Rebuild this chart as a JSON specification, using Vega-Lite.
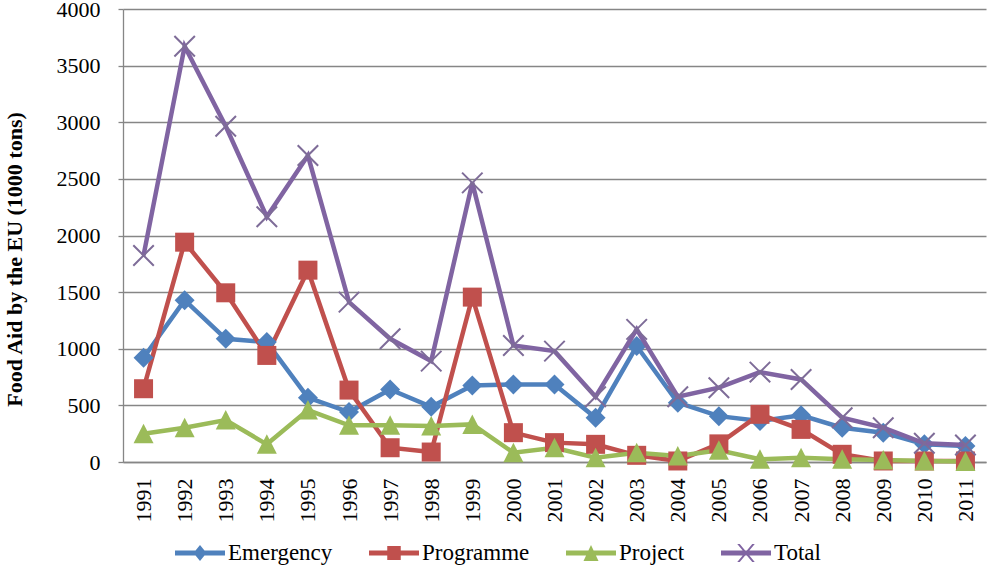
{
  "$schema": "https://vega.github.io/schema/vega-lite/v6.json",
  "width": 863,
  "height": 453,
  "autosize": {"type": "none"},
  "padding": {"left": 123, "top": 9, "right": 2, "bottom": 104},
  "background": "white",
  "config": {
    "view": {"stroke": null},
    "font": "Liberation Serif",
    "axis": {"labelFont": "Liberation Serif", "titleFont": "Liberation Serif", "labelColor": "black", "titleColor": "black", "domainColor": "#868686", "domainWidth": 1.3, "tickColor": "#868686", "tickWidth": 1.3, "gridColor": "#868686", "gridWidth": 1.3},
    "legend": {"labelFont": "Liberation Serif", "labelColor": "black"}
  },
  "data": {"values": [
    {"year": "1991", "series": "Emergency", "value": 921},
    {"year": "1992", "series": "Emergency", "value": 1429},
    {"year": "1993", "series": "Emergency", "value": 1088},
    {"year": "1994", "series": "Emergency", "value": 1059},
    {"year": "1995", "series": "Emergency", "value": 568},
    {"year": "1996", "series": "Emergency", "value": 441},
    {"year": "1997", "series": "Emergency", "value": 641},
    {"year": "1998", "series": "Emergency", "value": 488},
    {"year": "1999", "series": "Emergency", "value": 676},
    {"year": "2000", "series": "Emergency", "value": 685},
    {"year": "2001", "series": "Emergency", "value": 685},
    {"year": "2002", "series": "Emergency", "value": 391},
    {"year": "2003", "series": "Emergency", "value": 1024},
    {"year": "2004", "series": "Emergency", "value": 524},
    {"year": "2005", "series": "Emergency", "value": 405},
    {"year": "2006", "series": "Emergency", "value": 362},
    {"year": "2007", "series": "Emergency", "value": 412},
    {"year": "2008", "series": "Emergency", "value": 303},
    {"year": "2009", "series": "Emergency", "value": 259},
    {"year": "2010", "series": "Emergency", "value": 156},
    {"year": "2011", "series": "Emergency", "value": 141},
    {"year": "1991", "series": "Programme", "value": 647},
    {"year": "1992", "series": "Programme", "value": 1941},
    {"year": "1993", "series": "Programme", "value": 1494},
    {"year": "1994", "series": "Programme", "value": 941},
    {"year": "1995", "series": "Programme", "value": 1694},
    {"year": "1996", "series": "Programme", "value": 635},
    {"year": "1997", "series": "Programme", "value": 126},
    {"year": "1998", "series": "Programme", "value": 88},
    {"year": "1999", "series": "Programme", "value": 1456},
    {"year": "2000", "series": "Programme", "value": 259},
    {"year": "2001", "series": "Programme", "value": 171},
    {"year": "2002", "series": "Programme", "value": 156},
    {"year": "2003", "series": "Programme", "value": 59},
    {"year": "2004", "series": "Programme", "value": 9},
    {"year": "2005", "series": "Programme", "value": 160},
    {"year": "2006", "series": "Programme", "value": 421},
    {"year": "2007", "series": "Programme", "value": 288},
    {"year": "2008", "series": "Programme", "value": 68},
    {"year": "2009", "series": "Programme", "value": 9},
    {"year": "2010", "series": "Programme", "value": 9},
    {"year": "2011", "series": "Programme", "value": 9},
    {"year": "1991", "series": "Project", "value": 250},
    {"year": "1992", "series": "Project", "value": 303},
    {"year": "1993", "series": "Project", "value": 370},
    {"year": "1994", "series": "Project", "value": 156},
    {"year": "1995", "series": "Project", "value": 459},
    {"year": "1996", "series": "Project", "value": 324},
    {"year": "1997", "series": "Project", "value": 324},
    {"year": "1998", "series": "Project", "value": 318},
    {"year": "1999", "series": "Project", "value": 332},
    {"year": "2000", "series": "Project", "value": 82},
    {"year": "2001", "series": "Project", "value": 126},
    {"year": "2002", "series": "Project", "value": 38},
    {"year": "2003", "series": "Project", "value": 82},
    {"year": "2004", "series": "Project", "value": 53},
    {"year": "2005", "series": "Project", "value": 104},
    {"year": "2006", "series": "Project", "value": 24},
    {"year": "2007", "series": "Project", "value": 38},
    {"year": "2008", "series": "Project", "value": 24},
    {"year": "2009", "series": "Project", "value": 18},
    {"year": "2010", "series": "Project", "value": 8},
    {"year": "2011", "series": "Project", "value": 5},
    {"year": "1991", "series": "Total", "value": 1824},
    {"year": "1992", "series": "Total", "value": 3671},
    {"year": "1993", "series": "Total", "value": 2965},
    {"year": "1994", "series": "Total", "value": 2165},
    {"year": "1995", "series": "Total", "value": 2706},
    {"year": "1996", "series": "Total", "value": 1412},
    {"year": "1997", "series": "Total", "value": 1088},
    {"year": "1998", "series": "Total", "value": 891},
    {"year": "1999", "series": "Total", "value": 2465},
    {"year": "2000", "series": "Total", "value": 1029},
    {"year": "2001", "series": "Total", "value": 979},
    {"year": "2002", "series": "Total", "value": 576},
    {"year": "2003", "series": "Total", "value": 1171},
    {"year": "2004", "series": "Total", "value": 576},
    {"year": "2005", "series": "Total", "value": 656},
    {"year": "2006", "series": "Total", "value": 794},
    {"year": "2007", "series": "Total", "value": 729},
    {"year": "2008", "series": "Total", "value": 391},
    {"year": "2009", "series": "Total", "value": 303},
    {"year": "2010", "series": "Total", "value": 165},
    {"year": "2011", "series": "Total", "value": 150}
  ]},
  "encoding": {
    "x": {"field": "year", "type": "ordinal", "scale": {"type": "point", "padding": 0.5},
      "axis": {"title": null, "labelAngle": 270, "labelFontSize": 22, "ticks": false, "labelPadding": 16, "grid": false, "domainColor": "#868686"}},
    "y": {"field": "value", "type": "quantitative", "scale": {"domain": [0, 4000], "nice": false},
      "axis": {"values": [0, 500, 1000, 1500, 2000, 2500, 3000, 3500, 4000], "format": "d", "labelFontSize": 22, "tickSize": 5, "labelPadding": 18, "grid": true,
        "title": "Food Aid by the EU (1000 tons)", "titleFontSize": 22, "titleFontWeight": "bold", "titleX": -109, "titleY": 250, "titleAngle": 270, "titleAlign": "center", "titleBaseline": "middle"}},
    "color": {"field": "series", "type": "nominal", "scale": {"domain": ["Emergency", "Programme", "Project", "Total"], "range": ["#4F81BD", "#C0504D", "#9BBB59", "#8064A2"]},
      "legend": {"title": null, "orient": "none", "direction": "horizontal", "legendX": 52, "legendY": 519, "padding": 0,
        "symbolSize": 2500, "symbolStrokeWidth": 0, "labelFontSize": 23, "labelOffset": 3, "columnPadding": 36,
        "encode": {"symbols": {"update": {
          "shape": {"signal": "datum.value === 'Emergency' ? 'M-1,-0.1H1V0.1H-1Z M0,-0.32L0.26,0L0,0.32L-0.26,0Z' : datum.value === 'Programme' ? 'M-1,-0.1H1V0.1H-1Z M-0.27,-0.28H0.27V0.28H-0.27Z' : datum.value === 'Project' ? 'M-1,-0.1H1V0.1H-1Z M0,-0.32L0.3,0.32L-0.3,0.32Z' : 'M-1,-0.1H1V0.1H-1Z M-0.35,-0.36L-0.25,-0.36L0.35,0.36L0.25,0.36Z M0.25,-0.36L0.35,-0.36L-0.25,0.36L-0.35,0.36Z'"},
          "fill": {"scale": "color", "field": "value"},
          "stroke": {"value": "transparent"},
          "strokeWidth": {"value": 0},
          "opacity": {"value": 1}
        }}}}}
  },
  "layer": [
    {
      "transform": [{"filter": "datum.series !== 'Total'"}],
      "mark": {"type": "line", "strokeWidth": 4.5}
    },
    {
      "transform": [{"filter": "datum.series === 'Emergency'"}],
      "mark": {"type": "point", "filled": true, "opacity": 1, "size": 400, "shape": "M0,-1L1,0L0,1L-1,0Z"}
    },
    {
      "transform": [{"filter": "datum.series === 'Programme'"}],
      "mark": {"type": "point", "filled": true, "opacity": 1, "size": 400, "shape": "M-0.95,-0.95H0.95V0.95H-0.95Z"}
    },
    {
      "transform": [{"filter": "datum.series === 'Project'"}],
      "mark": {"type": "point", "filled": true, "opacity": 1, "size": 400, "shape": "M0,-1L1,0.95L-1,0.95Z"}
    },
    {
      "transform": [{"filter": "datum.series === 'Total'"}],
      "mark": {"type": "line", "strokeWidth": 4.5}
    },
    {
      "transform": [{"filter": "datum.series === 'Total'"}],
      "mark": {"type": "point", "filled": false, "opacity": 1, "size": 420, "shape": "M-1,-1L1,1M-1,1L1,-1", "strokeWidth": 2},
      "encoding": {"color": {"value": "#7E6C98"}}
    }
  ]
}
